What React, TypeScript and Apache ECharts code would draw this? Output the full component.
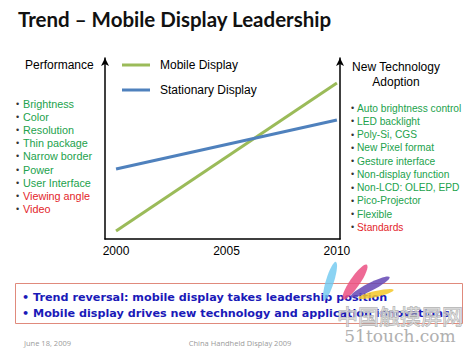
import React, { useEffect, useRef } from "react";
import * as echarts from "echarts";

const years = [2000, 2010];
const mobileDisplay = [4.4, 86.2];
const stationaryDisplay = [38.7, 65.7];
const xTickLabels = [2000, 2005, 2010];
const seriesNames = ["Mobile Display", "Stationary Display"];
const performanceItems = [
  "Brightness", "Color", "Resolution", "Thin package", "Narrow border",
  "Power", "User Interface", "Viewing angle", "Video",
];
const performanceRed = [false, false, false, false, false, false, false, true, true];
const adoptionItems = [
  "Auto brightness control", "LED backlight", "Poly-Si, CGS", "New Pixel format",
  "Gesture interface", "Non-display function", "Non-LCD: OLED, EPD",
  "Pico-Projector", "Flexible", "Standards",
];
const adoptionRed = [false, false, false, false, false, false, false, false, false, true];
const takeaways = [
  "• Trend reversal: mobile display takes leadership position",
  "• Mobile display drives new technology and application innovations",
];

const GREEN = "#9bbb59";
const BLUE = "#4f81bd";
const TXT_GREEN = "#22a24c";
const TXT_RED = "#e3262b";
const SANS = "'Liberation Sans', Arial, sans-serif";

export default function App() {
  const ref = useRef<HTMLDivElement>(null);
  useEffect(() => {
    if (!ref.current) return;
    const chart = echarts.init(ref.current, null, { renderer: "svg" });
    const graphics: any[] = [];
    graphics.push({
      type: "text", left: 18, top: 8,
      style: { text: "Trend – Mobile Display Leadership", fontSize: 20.5, fontWeight: "bold", fontFamily: "Lato, 'Open Sans', sans-serif", fill: "#111" },
    });
    graphics.push({
      type: "text", x: 25, y: 65,
      style: { text: "Performance", fontSize: 12, fontFamily: SANS, fill: "#000", verticalAlign: "middle" },
    });
    graphics.push({
      type: "text", x: 396, y: 67,
      style: { text: "New Technology", fontSize: 12, fontFamily: SANS, fill: "#000", align: "center", verticalAlign: "middle" },
    });
    graphics.push({
      type: "text", x: 396, y: 82,
      style: { text: "Adoption", fontSize: 12, fontFamily: SANS, fill: "#000", align: "center", verticalAlign: "middle" },
    });
    performanceItems.forEach((t, i) => {
      const y = 104 + i * 13.1;
      graphics.push({ type: "text", x: 16, y, style: { text: "•", fontSize: 9, fontFamily: SANS, fill: "#333", verticalAlign: "middle" } });
      graphics.push({ type: "text", x: 23, y, style: { text: t, fontSize: 10.8, fontFamily: SANS, fill: performanceRed[i] ? TXT_RED : TXT_GREEN, verticalAlign: "middle" } });
    });
    adoptionItems.forEach((t, i) => {
      const y = 108 + i * 13.25;
      graphics.push({ type: "text", x: 351, y, style: { text: "•", fontSize: 9, fontFamily: SANS, fill: "#333", verticalAlign: "middle" } });
      graphics.push({ type: "text", x: 357, y, style: { text: t, fontSize: 10.2, fontFamily: SANS, fill: adoptionRed[i] ? TXT_RED : TXT_GREEN, verticalAlign: "middle" } });
    });
    graphics.push({
      type: "rect", shape: { x: 15.5, y: 283.5, width: 447, height: 40 },
      style: { fill: "#fff", stroke: "#e08a7c", lineWidth: 1 },
    });
    takeaways.forEach((t, i) => {
      graphics.push({
        type: "text", x: 22, y: 297 + i * 16,
        style: { text: t, fontSize: 11.2, fontWeight: "bold", fontFamily: "'DejaVu Sans', sans-serif", fill: "#1a1ab8", verticalAlign: "middle" },
      });
    });
    graphics.push({
      type: "text", x: 24, y: 343,
      style: { text: "June 18, 2009", fontSize: 7.5, fontFamily: "'Open Sans', sans-serif", fill: "#9a9a9a", verticalAlign: "middle" },
    });
    graphics.push({
      type: "text", x: 240, y: 343,
      style: { text: "China Handheld Display 2009", fontSize: 7.5, fontFamily: "'Open Sans', sans-serif", fill: "#9a9a9a", align: "center", verticalAlign: "middle" },
    });
    // watermark
    graphics.push({ type: "ellipse", shape: { cx: 0, cy: 0, rx: 4, ry: 20 }, x: 330, y: 281, rotation: -0.3, style: { fill: "rgba(110,200,240,0.8)" } });
    graphics.push({ type: "ellipse", shape: { cx: 0, cy: 0, rx: 5, ry: 21 }, x: 355, y: 282, rotation: -0.6, style: { fill: "rgba(235,80,130,0.85)" } });
    graphics.push({ type: "ellipse", shape: { cx: 0, cy: 0, rx: 4, ry: 22 }, x: 370, y: 287, rotation: -1.1, style: { fill: "rgba(100,70,180,0.85)" } });
    graphics.push({ type: "ellipse", shape: { cx: 0, cy: 0, rx: 3, ry: 18 }, x: 376, y: 294, rotation: -1.35, style: { fill: "rgba(245,200,40,0.85)" } });
    graphics.push({
      type: "text", x: 400, y: 315,
      style: { text: "中国触摸屏网", fontSize: 21, fontFamily: "'Noto Sans CJK SC', sans-serif", fill: "rgba(220,220,220,0.7)", stroke: "#a8a8a8", lineWidth: 0.8, align: "center", verticalAlign: "middle" },
    });
    graphics.push({
      type: "text", x: 400, y: 336,
      style: { text: "51touch.com", fontSize: 17, fontFamily: "'DejaVu Serif', serif", fill: "#b0b0b0", align: "center", verticalAlign: "middle" },
    });

    const axisLineStyle = { color: "#000", width: 1.5 };
    chart.setOption({
      animation: false,
      backgroundColor: "#fff",
      grid: { left: 105, right: 134, top: 58, bottom: 113 },
      legend: {
        data: seriesNames, orient: "vertical", left: 117, top: 54,
        itemWidth: 28, itemHeight: 3, itemGap: 13, icon: "rect",
        textStyle: { fontSize: 12, fontFamily: SANS, color: "#000", padding: [0, 0, 0, 5] },
      },
      xAxis: {
        type: "value", min: 1999.5, max: 2010.14,
        axisLine: { lineStyle: axisLineStyle },
        axisTick: { show: false },
        splitLine: { show: false },
        axisLabel: { customValues: xTickLabels, formatter: (v: number) => String(Math.round(v)), fontSize: 12, fontFamily: SANS, color: "#000", margin: 6 },
      },
      yAxis: [
        {
          type: "value", min: 0, max: 100, position: "left",
          axisLine: { show: true, onZero: false, lineStyle: axisLineStyle, symbol: ["none", "arrow"], symbolSize: [6, 8] },
          axisTick: { show: false }, axisLabel: { show: false }, splitLine: { show: false },
        },
        {
          type: "value", min: 0, max: 100, position: "right",
          axisLine: { show: true, onZero: false, lineStyle: axisLineStyle, symbol: ["none", "arrow"], symbolSize: [6, 8] },
          axisTick: { show: false }, axisLabel: { show: false }, splitLine: { show: false },
        },
      ],
      series: [
        {
          name: seriesNames[0], type: "line", showSymbol: false, color: GREEN,
          lineStyle: { width: 3, color: GREEN },
          data: years.map((y, i) => [y, mobileDisplay[i]]),
        },
        {
          name: seriesNames[1], type: "line", showSymbol: false, color: BLUE,
          lineStyle: { width: 3, color: BLUE },
          data: years.map((y, i) => [y, stationaryDisplay[i]]),
        },
      ],
      graphic: graphics,
    });
    return () => chart.dispose();
  }, []);
  return <div ref={ref} style={{ position: "fixed", left: 0, top: 0, width: 474, height: 352 }} />;
}
